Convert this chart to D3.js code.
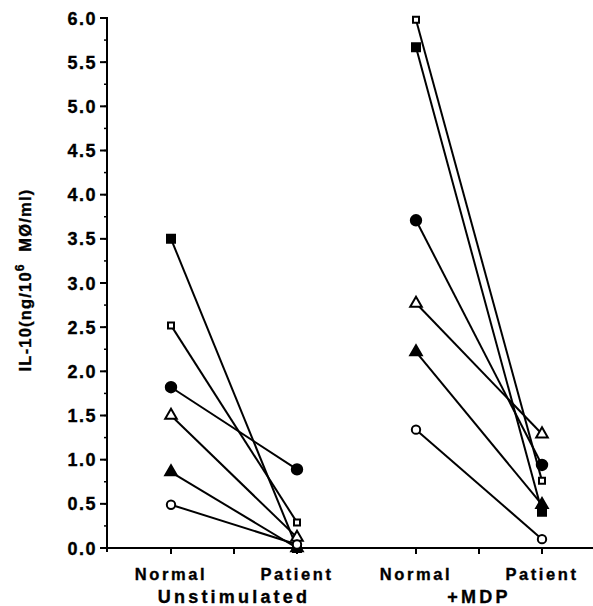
<!DOCTYPE html>
<html>
<head>
<meta charset="utf-8">
<script src="https://cdn.jsdelivr.net/npm/d3@7"></script>
<style>
  body { margin: 0; background: #fff; }
  svg { font-family: "Liberation Sans", Arial, sans-serif; font-weight: bold; }
  text { stroke: #000; stroke-width: 0.35px; }
</style>
</head>
<body>
<svg id="chart" width="593" height="606"></svg>
<script>
// groups / conditions along x
var groups = ["Unstimulated", "+MDP"];
var conditions = ["Normal", "Patient"];

// one entry per subject (marker style)
var markers = ["filledSquare", "openSquare", "filledCircle", "openTriangle", "filledTriangle", "openCircle"];
var unstimNormal  = [3.50, 2.52, 1.82, 1.50, 0.86, 0.49];
var unstimPatient = [0.00, 0.29, 0.89, 0.12, 0.00, 0.04];
var mdpNormal     = [5.67, 5.98, 3.71, 2.77, 2.22, 1.34];
var mdpPatient    = [0.41, 0.76, 0.94, 1.29, 0.49, 0.10];

var yTicks = [0, 0.5, 1, 1.5, 2, 2.5, 3, 3.5, 4, 4.5, 5, 5.5, 6];
var yMinor = d3.range(0, 6.01, 0.25);

var svg = d3.select("#chart");

var y = d3.scaleLinear().domain([0, 6]).range([548, 18]);
var xGroup = d3.scalePoint().domain(groups).range([234, 479]);
var xCond = d3.scalePoint().domain(conditions).range([-63, 63]);
function xPos(g, c) { return xGroup(g) + xCond(c); }

// axes
svg.append("line").attr("x1", 107).attr("x2", 107).attr("y1", 17).attr("y2", 552)
  .attr("stroke", "#000").attr("stroke-width", 2);
svg.append("line").attr("x1", 106).attr("x2", 593).attr("y1", 548).attr("y2", 548)
  .attr("stroke", "#000").attr("stroke-width", 2);

svg.selectAll(".ymin").data(yMinor).enter().append("line")
  .attr("x1", 104).attr("x2", 107)
  .attr("y1", function (d) { return y(d); }).attr("y2", function (d) { return y(d); })
  .attr("stroke", "#000").attr("stroke-width", 1.5);

svg.selectAll(".ytick").data(yTicks).enter().append("line")
  .attr("x1", 100).attr("x2", 107)
  .attr("y1", function (d) { return y(d); }).attr("y2", function (d) { return y(d); })
  .attr("stroke", "#000").attr("stroke-width", 2);

svg.selectAll(".ylab").data(yTicks).enter().append("text")
  .attr("x", 97).attr("y", function (d) { return y(d) + 6.5; })
  .attr("text-anchor", "end").attr("font-size", 18).attr("letter-spacing", 1.5)
  .text(function (d) { return d3.format(".1f")(d); });

// x ticks: each condition plus group centre
var xTickPos = [];
groups.forEach(function (g) {
  conditions.forEach(function (c) { xTickPos.push(xPos(g, c)); });
  xTickPos.push(xGroup(g));
});
svg.selectAll(".xtick").data(xTickPos).enter().append("line")
  .attr("x1", function (d) { return d; }).attr("x2", function (d) { return d; })
  .attr("y1", 548).attr("y2", 554)
  .attr("stroke", "#000").attr("stroke-width", 2);

groups.forEach(function (g) {
  conditions.forEach(function (c) {
    svg.append("text").attr("x", xPos(g, c)).attr("y", 580)
      .attr("text-anchor", "middle").attr("font-size", 16.5).attr("letter-spacing", 2.6)
      .text(c);
  });
  svg.append("text").attr("x", xGroup(g)).attr("y", 603)
    .attr("text-anchor", "middle").attr("font-size", 18).attr("letter-spacing", 3.2)
    .text(g);
});

// y title
var yt = svg.append("text").attr("transform", "translate(31,280) rotate(-90)")
  .attr("text-anchor", "middle").attr("font-size", 16.5).attr("letter-spacing", 1.2);
yt.append("tspan").text("IL-10(ng/10");
yt.append("tspan").attr("dy", -7).attr("font-size", 12).text("6");
yt.append("tspan").attr("dy", 7).text("\u00a0\u00a0M\u00d8/ml)");

// lines
var pairs = [
  { g: "Unstimulated", a: unstimNormal, b: unstimPatient },
  { g: "+MDP", a: mdpNormal, b: mdpPatient }
];
pairs.forEach(function (p) {
  markers.forEach(function (m, i) {
    svg.append("line")
      .attr("x1", xPos(p.g, "Normal")).attr("y1", y(p.a[i]))
      .attr("x2", xPos(p.g, "Patient")).attr("y2", y(p.b[i]))
      .attr("stroke", "#000").attr("stroke-width", 2);
  });
});

// markers
var symbolOf = {
  filledSquare:   { type: d3.symbolSquare,   size: 64, fill: "#000" },
  openSquare:     { type: d3.symbolSquare,   size: 36, fill: "#fff" },
  filledCircle:   { type: d3.symbolCircle,   size: 85, fill: "#000" },
  openTriangle:   { type: d3.symbolTriangle, size: 58, fill: "#fff" },
  filledTriangle: { type: d3.symbolTriangle, size: 58, fill: "#000" },
  openCircle:     { type: d3.symbolCircle,   size: 55, fill: "#fff" }
};
pairs.forEach(function (p) {
  markers.forEach(function (m, i) {
    var s = symbolOf[m];
    [["Normal", p.a[i]], ["Patient", p.b[i]]].forEach(function (pt) {
      svg.append("path")
        .attr("d", d3.symbol().type(s.type).size(s.size)())
        .attr("transform", "translate(" + xPos(p.g, pt[0]) + "," + y(pt[1]) + ")")
        .attr("fill", s.fill).attr("stroke", "#000").attr("stroke-width", 2);
    });
  });
});
</script>
</body>
</html>
